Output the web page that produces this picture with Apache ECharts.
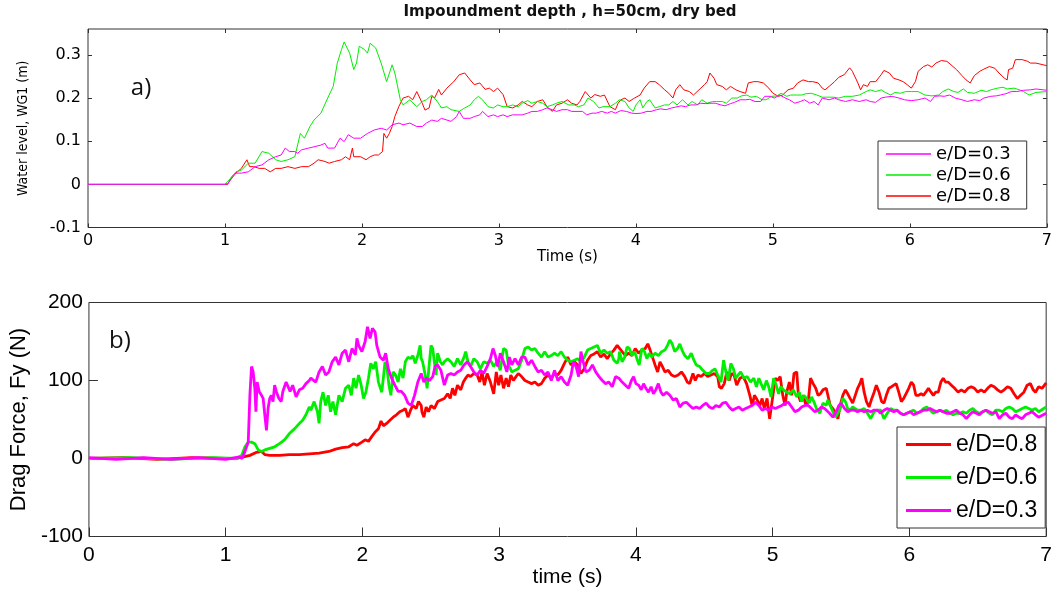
<!DOCTYPE html>
<html>
<head>
<meta charset="utf-8">
<title>Impoundment depth, h=50cm, dry bed</title>
<script src="https://cdn.jsdelivr.net/npm/echarts@6/dist/echarts.min.js"></script>
<style>
    html, body { margin: 0; padding: 0; background: #fff; }
    #chart { width: 1055px; height: 589px; }
</style>
</head>
<body>
<div id="chart"></div>
<script>
// legend names
var names = ['e/D=0.3', 'e/D=0.6', 'e/D=0.8'];

// axis ticks
var timeTicks = [0, 1, 2, 3, 4, 5, 6, 7];
var wgTicks = [-0.1, 0, 0.1, 0.2, 0.3];
var wgTop = 0.36;
var fyTicks = [-100, 0, 100, 200];

// a) water level WG1 (m), [time s, level m]
var wgMag = [[0,0],[1.00,0],[1.02,0.002],[1.08,0.026],[1.12,0.026],[1.17,0.029],[1.22,0.041],[1.27,0.045],[1.32,0.057],[1.37,0.064],[1.41,0.068],[1.44,0.084],[1.47,0.076],[1.51,0.076],[1.53,0.072],[1.56,0.080],[1.61,0.084],[1.65,0.087],[1.70,0.091],[1.73,0.095],[1.75,0.084],[1.80,0.084],[1.84,0.107],[1.87,0.099],[1.90,0.115],[1.94,0.107],[1.99,0.107],[2.04,0.118],[2.09,0.126],[2.14,0.130],[2.18,0.126],[2.22,0.138],[2.27,0.142],[2.30,0.138],[2.35,0.142],[2.40,0.134],
    [2.44,0.134],[2.47,0.142],[2.51,0.149],[2.55,0.146],[2.58,0.153],[2.62,0.149],[2.65,0.146],[2.69,0.157],[2.71,0.169],[2.74,0.153],[2.79,0.153],[2.82,0.157],[2.86,0.161],[2.88,0.169],[2.92,0.157],[2.96,0.161],[2.99,0.157],[3.03,0.161],[3.06,0.157],[3.10,0.161],[3.14,0.161],[3.17,0.161],[3.21,0.165],[3.24,0.169],[3.28,0.169],[3.32,0.173],[3.35,0.177],[3.39,0.173],[3.42,0.169],[3.46,0.173],[3.50,0.173],[3.53,0.169],[3.57,0.169],[3.61,0.169],[3.64,0.161],[3.68,0.165],[3.71,0.165],[3.75,0.169],[3.79,0.165],[3.82,0.169],[3.85,0.165],
    [3.86,0.161],[3.89,0.171],[3.93,0.169],[3.97,0.165],[4.00,0.164],[4.04,0.165],[4.08,0.169],[4.11,0.169],[4.15,0.173],[4.18,0.175],[4.22,0.173],[4.26,0.177],[4.29,0.179],[4.33,0.182],[4.36,0.180],[4.40,0.184],[4.44,0.184],[4.47,0.188],[4.51,0.187],[4.54,0.188],[4.58,0.188],[4.62,0.184],[4.65,0.182],[4.69,0.187],[4.72,0.190],[4.76,0.196],[4.80,0.196],[4.83,0.197],[4.87,0.192],[4.91,0.192],[4.94,0.204],[4.98,0.204],[5.01,0.200],[5.05,0.207],[5.09,0.200],[5.12,0.196],[5.16,0.188],[5.20,0.192],[5.23,0.196],[5.27,0.188],[5.30,0.192],
    [5.33,0.184],[5.36,0.200],[5.41,0.196],[5.45,0.200],[5.48,0.196],[5.53,0.192],[5.58,0.196],[5.63,0.192],[5.68,0.196],[5.71,0.192],[5.75,0.190],[5.79,0.200],[5.82,0.202],[5.87,0.204],[5.92,0.200],[5.96,0.196],[6.01,0.194],[6.06,0.196],[6.11,0.200],[6.15,0.192],[6.18,0.204],[6.22,0.205],[6.25,0.204],[6.29,0.207],[6.33,0.200],[6.38,0.196],[6.42,0.192],[6.47,0.196],[6.51,0.194],[6.54,0.200],[6.59,0.204],[6.63,0.205],[6.66,0.207],[6.70,0.210],[6.74,0.215],[6.78,0.215],[6.83,0.218],[6.88,0.219],[6.92,0.221],[7.00,0.218]];

var wgGreen = [[0,0],[1.00,0],[1.03,0.010],[1.08,0.029],[1.12,0.033],[1.17,0.049],[1.22,0.049],[1.27,0.076],[1.32,0.072],[1.37,0.057],[1.41,0.053],[1.46,0.057],[1.51,0.064],[1.55,0.118],[1.58,0.107],[1.62,0.134],[1.65,0.149],[1.70,0.165],[1.71,0.161],[1.75,0.200],[1.79,0.227],[1.82,0.281],[1.85,0.312],[1.87,0.330],[1.91,0.304],[1.94,0.266],[1.96,0.281],[1.98,0.320],[2.02,0.312],[2.04,0.304],[2.06,0.327],[2.10,0.316],[2.14,0.281],[2.18,0.238],[2.22,0.277],[2.24,0.258],[2.28,0.196],[2.30,0.184],[2.35,0.196],[2.40,0.180],
    [2.44,0.192],[2.47,0.196],[2.51,0.207],[2.55,0.192],[2.58,0.177],[2.62,0.180],[2.65,0.173],[2.71,0.169],[2.75,0.177],[2.79,0.184],[2.82,0.196],[2.85,0.204],[2.88,0.196],[2.92,0.180],[2.96,0.177],[2.99,0.184],[3.03,0.180],[3.06,0.180],[3.10,0.184],[3.14,0.180],[3.17,0.188],[3.21,0.194],[3.24,0.188],[3.28,0.192],[3.32,0.188],[3.35,0.180],[3.39,0.184],[3.42,0.188],[3.46,0.192],[3.51,0.184],[3.55,0.184],[3.58,0.180],[3.62,0.184],[3.65,0.200],[3.69,0.192],[3.73,0.177],[3.76,0.180],
    [3.81,0.180],[3.85,0.188],[3.88,0.196],[3.92,0.192],[3.95,0.177],[3.98,0.169],[4.00,0.184],[4.03,0.196],[4.05,0.177],[4.08,0.192],[4.10,0.196],[4.14,0.177],[4.17,0.180],[4.21,0.184],[4.24,0.184],[4.27,0.192],[4.30,0.184],[4.34,0.196],[4.38,0.184],[4.41,0.192],[4.45,0.184],[4.48,0.196],[4.52,0.188],[4.56,0.192],[4.59,0.192],[4.63,0.192],[4.66,0.188],[4.70,0.200],[4.74,0.200],[4.77,0.205],[4.81,0.207],[4.84,0.202],[4.88,0.204],[4.92,0.196],[4.95,0.196],[4.99,0.204],[5.03,0.205],[5.06,0.211],[5.10,0.204],[5.13,0.207],[5.17,0.207],[5.21,0.207],[5.24,0.210],[5.28,0.211],[5.32,0.207],[5.36,0.202],
    [5.39,0.202],[5.44,0.202],[5.48,0.200],[5.53,0.204],[5.58,0.204],[5.63,0.207],[5.68,0.215],[5.71,0.219],[5.75,0.215],[5.79,0.219],[5.82,0.213],[5.86,0.207],[5.89,0.213],[5.93,0.211],[5.97,0.215],[6.01,0.215],[6.06,0.215],[6.11,0.207],[6.16,0.205],[6.21,0.207],[6.24,0.215],[6.28,0.221],[6.32,0.215],[6.35,0.213],[6.39,0.221],[6.42,0.213],[6.47,0.211],[6.52,0.218],[6.56,0.215],[6.59,0.219],[6.64,0.223],[6.68,0.225],[6.71,0.221],[6.76,0.223],[6.80,0.219],[6.83,0.215],[6.87,0.207],[6.92,0.213],[7.00,0.215]];

var wgRed = [[0,0],[1.02,0],[1.05,0.018],[1.09,0.029],[1.12,0.037],[1.16,0.057],[1.18,0.041],[1.21,0.041],[1.25,0.037],[1.29,0.037],[1.33,0.029],[1.37,0.037],[1.41,0.037],[1.46,0.041],[1.51,0.037],[1.56,0.041],[1.61,0.041],[1.65,0.049],[1.68,0.057],[1.73,0.053],[1.76,0.049],[1.80,0.053],[1.85,0.057],[1.88,0.064],[1.91,0.057],[1.93,0.084],[1.94,0.064],[1.99,0.064],[2.03,0.057],[2.06,0.064],[2.09,0.068],[2.12,0.068],[2.15,0.076],[2.16,0.118],[2.18,0.107],[2.20,0.118],[2.22,0.134],[2.24,0.157],[2.27,0.181],[2.30,0.200],[2.34,0.204],[2.37,0.196],[2.40,0.215],
    [2.44,0.188],[2.46,0.172],[2.49,0.177],[2.51,0.204],[2.53,0.200],[2.56,0.220],[2.58,0.207],[2.62,0.223],[2.67,0.238],[2.71,0.254],[2.75,0.258],[2.79,0.242],[2.82,0.231],[2.86,0.235],[2.90,0.220],[2.93,0.223],[2.96,0.215],[2.99,0.223],[3.03,0.208],[3.06,0.180],[3.10,0.177],[3.14,0.184],[3.17,0.192],[3.21,0.184],[3.24,0.180],[3.28,0.192],[3.32,0.196],[3.35,0.180],[3.39,0.169],[3.42,0.184],[3.46,0.188],[3.50,0.196],[3.53,0.188],[3.57,0.184],[3.59,0.192],[3.63,0.215],[3.67,0.200],[3.70,0.208],[3.74,0.204],[3.77,0.207],[3.81,0.180],[3.85,0.173],
    [3.87,0.188],[3.89,0.196],[3.92,0.200],[3.95,0.192],[3.99,0.200],[4.03,0.207],[4.06,0.223],[4.10,0.238],[4.14,0.238],[4.17,0.231],[4.21,0.219],[4.24,0.211],[4.27,0.200],[4.29,0.219],[4.32,0.231],[4.35,0.219],[4.39,0.215],[4.42,0.207],[4.46,0.219],[4.50,0.231],[4.52,0.238],[4.54,0.258],[4.57,0.246],[4.59,0.231],[4.63,0.227],[4.66,0.219],[4.69,0.227],[4.73,0.219],[4.76,0.215],[4.80,0.211],[4.82,0.235],[4.86,0.238],[4.89,0.238],[4.93,0.235],[4.97,0.223],[5.00,0.211],[5.04,0.204],[5.07,0.207],[5.11,0.219],[5.15,0.223],[5.18,0.235],[5.22,0.242],[5.26,0.238],[5.29,0.238],[5.33,0.235],[5.36,0.223],
    [5.38,0.219],[5.41,0.227],[5.45,0.238],[5.48,0.248],[5.52,0.254],[5.56,0.270],[5.58,0.262],[5.62,0.235],[5.64,0.219],[5.66,0.231],[5.69,0.227],[5.71,0.238],[5.75,0.238],[5.79,0.254],[5.81,0.264],[5.85,0.258],[5.88,0.246],[5.92,0.242],[5.95,0.238],[5.98,0.231],[6.01,0.223],[6.04,0.238],[6.06,0.262],[6.10,0.273],[6.13,0.277],[6.16,0.272],[6.19,0.281],[6.23,0.287],[6.27,0.285],[6.30,0.277],[6.34,0.266],[6.38,0.252],[6.41,0.242],[6.44,0.235],[6.47,0.252],[6.51,0.262],[6.54,0.267],[6.58,0.273],[6.62,0.269],[6.65,0.258],[6.69,0.246],[6.71,0.242],[6.72,0.266],[6.75,0.269],[6.77,0.289],[6.78,0.293],[6.82,0.289],[6.86,0.285],[6.88,0.281],[6.92,0.281],[7.00,0.275]];

// b) drag force Fy (N), [time s, force N]
var fyMag = [[0,1],[0.2,-1],[0.4,1],[0.6,-1],[0.8,1],[1.0,-1],[1.1,2],[1.12,0],[1.14,8.5],[1.165,21],[1.177,81],[1.189,118],[1.201,111],[1.213,90],[1.221,60],[1.230,98],[1.245,86],[1.262,81],[1.274,77],[1.286,56],[1.298,36],[1.310,64],[1.322,77],[1.334,81],[1.346,73],[1.358,94],[1.370,86],[1.389,77],[1.406,73],[1.418,86],[1.442,98],[1.454,98],[1.471,86],[1.490,94],[1.515,79],[1.539,88],[1.563,90],[1.587,96],[1.611,100],[1.623,103],[1.635,103],[1.659,98],[1.683,111],[1.707,118],[1.731,107],[1.755,111],[1.779,124],[1.804,130],[1.828,120],[1.852,135],[1.876,139],[1.900,124],[1.924,141],[1.948,133],[1.960,154],[1.972,145],[1.996,137],[2.020,150],[2.037,169],[2.056,154],[2.073,167],[2.093,162],[2.105,145],[2.129,130],[2.153,126],[2.170,135],[2.189,115],[2.213,103],[2.237,94],[2.261,86],[2.285,86],[2.309,81],[2.333,71],[2.357,68],[2.381,81],[2.405,98],[2.430,109],
    [2.449,98],[2.466,103],[2.490,100],[2.514,105],[2.531,118],[2.550,120],[2.574,113],[2.599,94],[2.623,107],[2.647,109],[2.671,107],[2.695,111],[2.719,113],[2.743,120],[2.767,124],[2.791,118],[2.815,111],[2.839,107],[2.863,113],[2.887,109],[2.912,118],[2.936,128],[2.955,141],[2.972,132],[2.989,118],[3.008,135],[3.032,124],[3.056,111],[3.075,130],[3.092,120],[3.116,128],[3.140,120],[3.164,130],[3.188,130],[3.212,120],[3.237,126],[3.261,118],[3.285,111],[3.309,113],[3.333,107],[3.357,111],[3.381,100],[3.405,113],[3.429,100],[3.453,105],[3.477,98],[3.501,94],[3.526,107],[3.543,124],[3.562,118],[3.581,105],[3.598,137],[3.615,124],[3.634,111],[3.658,113],[3.682,120],[3.706,111],[3.730,105],[3.754,100],[3.778,96],[3.802,98],[3.827,92],[3.851,105],[3.875,103],
    [3.899,98],[3.923,94],[3.947,90],[3.967,100],[3.983,105],[4.000,96],[4.020,94],[4.039,88],[4.056,96],[4.073,90],[4.092,85],[4.111,92],[4.128,83],[4.145,88],[4.164,96],[4.183,85],[4.200,81],[4.224,85],[4.248,81],[4.272,75],[4.296,77],[4.321,66],[4.345,71],[4.369,72],[4.393,68],[4.417,64],[4.441,66],[4.465,64],[4.489,68],[4.513,71],[4.537,66],[4.561,64],[4.585,68],[4.610,66],[4.634,71],[4.658,72],[4.682,66],[4.706,62],[4.730,64],[4.754,66],[4.778,62],[4.802,64],[4.826,66],[4.850,68],[4.875,72],[4.899,68],[4.923,62],[4.947,64],[4.971,62],[4.995,66],[5.019,64],[5.043,66],[5.067,68],[5.091,71],[5.115,72],[5.139,66],[5.163,60],[5.188,62],[5.212,66],[5.236,68],[5.260,68],[5.284,64],[5.308,60],[5.332,62],[5.356,66],[5.380,64],[5.392,64],
    [5.416,58],[5.440,53],[5.465,60],[5.484,68],[5.501,71],[5.525,64],[5.549,60],[5.573,62],[5.597,62],[5.621,60],[5.645,62],[5.669,60],[5.693,62],[5.717,60],[5.742,62],[5.766,62],[5.790,58],[5.814,62],[5.838,64],[5.862,62],[5.886,60],[5.910,62],[5.934,58],[5.958,56],[5.982,58],[6.006,60],[6.031,56],[6.055,58],[6.079,60],[6.103,62],[6.127,62],[6.151,64],[6.175,62],[6.199,60],[6.223,62],[6.247,60],[6.271,58],[6.295,58],[6.319,60],[6.344,62],[6.368,58],[6.392,56],[6.416,51],[6.440,56],[6.464,60],[6.488,58],[6.512,56],[6.536,60],[6.560,62],[6.584,60],[6.608,58],[6.632,60],[6.657,51],[6.681,56],[6.705,58],[6.729,53],[6.753,51],[6.777,56],[6.801,53],[6.825,51],[6.849,56],[6.873,58],[6.897,60],[6.922,56],[6.945,53],[7.0,58]];

var fyGreen = [[0,0],[0.3,1],[0.6,-1],[0.9,1],[1.081,0],[1.117,4],[1.141,15],[1.165,21],[1.189,21],[1.213,19],[1.238,11],[1.262,9],[1.286,11],[1.322,13],[1.358,15],[1.394,19],[1.430,24],[1.466,32],[1.503,38],[1.539,45],[1.563,49],[1.587,56],[1.611,66],[1.623,62],[1.647,73],[1.671,60],[1.683,45],[1.695,73],[1.712,85],[1.731,68],[1.750,81],[1.767,60],[1.784,73],[1.804,56],[1.828,81],[1.852,73],[1.876,90],[1.900,94],[1.919,81],[1.936,103],[1.953,90],[1.972,107],[1.991,94],[2.008,77],[2.025,85],[2.044,103],[2.061,122],[2.080,115],[2.097,124],[2.117,98],[2.141,85],[2.153,103],[2.165,124],[2.177,120],[2.194,94],[2.208,81],[2.225,111],[2.242,107],[2.261,98],[2.278,115],[2.297,103],[2.314,124],[2.333,130],[2.352,128],[2.369,132],[2.386,122],[2.405,132],[2.422,145],[2.430,128],
    [2.44,124],[2.459,107],[2.473,90],[2.490,124],[2.502,145],[2.514,141],[2.526,124],[2.538,107],[2.550,135],[2.570,124],[2.586,120],[2.599,124],[2.623,128],[2.647,124],[2.671,118],[2.695,128],[2.719,120],[2.743,130],[2.755,137],[2.772,124],[2.791,118],[2.815,128],[2.839,124],[2.863,115],[2.887,124],[2.912,122],[2.936,126],[2.960,118],[2.984,124],[3.008,113],[3.032,141],[3.051,139],[3.068,120],[3.092,111],[3.116,113],[3.140,115],[3.164,126],[3.188,141],[3.212,143],[3.237,139],[3.261,141],[3.285,135],[3.309,130],[3.333,137],[3.357,130],[3.381,132],[3.405,135],[3.429,132],[3.453,137],[3.477,130],[3.501,126],[3.526,124],[3.550,126],[3.574,128],[3.598,124],[3.622,130],[3.646,139],[3.670,141],[3.694,143],[3.718,145],[3.742,135],[3.766,139],[3.790,135],[3.814,137],[3.839,126],[3.863,122],[3.875,128],
    [3.880,137],[3.899,124],[3.918,130],[3.935,143],[3.952,141],[3.971,132],[3.991,137],[4.007,128],[4.024,120],[4.044,141],[4.063,137],[4.080,128],[4.097,135],[4.116,130],[4.140,135],[4.164,132],[4.188,137],[4.212,139],[4.231,145],[4.248,152],[4.265,147],[4.284,137],[4.304,141],[4.321,147],[4.337,139],[4.357,132],[4.381,128],[4.405,135],[4.424,126],[4.441,120],[4.465,118],[4.489,113],[4.513,109],[4.537,109],[4.561,113],[4.578,115],[4.598,107],[4.622,98],[4.641,126],[4.658,111],[4.675,100],[4.694,122],[4.713,115],[4.730,103],[4.747,107],[4.766,111],[4.790,103],[4.814,105],[4.838,98],[4.862,103],[4.881,92],[4.899,103],[4.915,96],[4.935,88],[4.954,100],[4.971,92],[4.988,79],[5.007,103],[5.026,94],[5.043,83],[5.060,92],[5.079,88],[5.103,85],[5.127,83],[5.151,88],[5.176,79],[5.195,85],[5.212,73],[5.228,81],[5.248,77],[5.267,71],[5.284,79],[5.301,73],[5.320,64],[5.344,58],[5.368,71],[5.392,68],
    [5.404,75],[5.421,68],[5.440,60],[5.460,53],[5.477,58],[5.494,64],[5.513,77],[5.532,73],[5.549,64],[5.566,62],[5.585,66],[5.604,64],[5.621,62],[5.645,62],[5.669,64],[5.693,58],[5.717,51],[5.742,60],[5.766,62],[5.790,62],[5.814,51],[5.838,58],[5.862,64],[5.886,62],[5.910,62],[5.934,58],[5.958,56],[5.982,58],[6.006,60],[6.031,62],[6.055,58],[6.079,60],[6.103,64],[6.127,66],[6.151,62],[6.175,58],[6.199,60],[6.223,62],[6.247,60],[6.271,62],[6.295,58],[6.319,56],[6.344,58],[6.368,58],[6.392,60],[6.416,58],[6.440,62],[6.464,64],[6.488,60],[6.512,58],[6.536,60],[6.560,62],[6.584,58],[6.608,56],[6.632,62],[6.657,62],[6.681,60],[6.705,64],[6.729,66],[6.753,64],[6.777,60],[6.801,62],[6.825,64],[6.849,66],[6.873,64],[6.897,62],[6.922,64],[6.945,60],[7.0,66]];

var fyRed = [[0,0],[0.25,1],[0.5,-1],[0.75,1],[1.0,0],[1.081,0],[1.129,2],[1.177,4],[1.226,8],[1.262,9],[1.286,5],[1.322,4],[1.394,4],[1.466,5],[1.539,5],[1.611,6],[1.683,7],[1.755,9],[1.804,12],[1.852,14],[1.900,15],[1.936,19],[1.960,17],[1.996,21],[2.020,24],[2.044,22],[2.068,28],[2.093,34],[2.117,38],[2.136,48],[2.153,42],[2.177,45],[2.201,49],[2.225,53],[2.249,56],[2.273,60],[2.297,62],[2.314,64],[2.333,53],[2.352,62],[2.369,68],[2.393,64],[2.410,73],[2.430,68],
    [2.435,60],[2.449,53],[2.466,66],[2.483,60],[2.502,68],[2.526,64],[2.550,73],[2.574,75],[2.599,77],[2.623,83],[2.642,77],[2.659,90],[2.676,81],[2.695,94],[2.719,88],[2.738,98],[2.755,103],[2.772,107],[2.791,105],[2.815,109],[2.839,107],[2.858,98],[2.875,111],[2.892,94],[2.912,109],[2.936,98],[2.960,83],[2.979,111],[2.996,94],[3.013,107],[3.032,90],[3.051,103],[3.068,92],[3.085,107],[3.104,100],[3.123,105],[3.140,109],[3.164,105],[3.188,100],[3.212,98],[3.237,96],[3.261,98],[3.285,94],[3.309,96],[3.333,103],[3.357,107],[3.381,103],[3.405,109],[3.429,107],[3.453,113],[3.477,122],[3.501,130],[3.526,120],[3.550,124],[3.574,120],[3.598,109],[3.622,115],[3.646,126],[3.670,132],[3.694,134],[3.718,137],[3.742,130],[3.766,134],[3.790,128],[3.814,134],[3.839,139],[3.863,145],[3.875,143],
    [3.899,137],[3.923,132],[3.947,135],[3.971,132],[3.995,141],[4.020,135],[4.044,139],[4.068,141],[4.087,147],[4.104,139],[4.121,130],[4.140,120],[4.159,111],[4.176,124],[4.193,118],[4.212,111],[4.236,113],[4.260,107],[4.284,105],[4.309,107],[4.333,111],[4.357,105],[4.376,98],[4.393,96],[4.417,109],[4.434,100],[4.453,107],[4.477,105],[4.501,109],[4.525,105],[4.549,107],[4.573,109],[4.598,105],[4.610,92],[4.626,90],[4.646,96],[4.665,111],[4.682,100],[4.699,109],[4.718,107],[4.737,94],[4.761,103],[4.785,105],[4.809,96],[4.833,81],[4.850,68],[4.867,81],[4.887,75],[4.906,68],[4.923,77],[4.939,64],[4.959,77],[4.978,51],[4.988,49],[5.002,81],[5.019,103],[5.036,100],[5.055,105],[5.074,81],[5.091,68],[5.103,85],[5.122,98],[5.139,81],[5.156,109],[5.176,111],[5.188,81],[5.204,73],[5.224,81],[5.243,68],[5.260,73],[5.277,103],[5.296,96],[5.315,90],[5.332,81],[5.349,83],[5.368,88],[5.392,90],
    [5.421,68],[5.440,64],[5.460,58],[5.477,51],[5.494,68],[5.513,81],[5.532,88],[5.549,83],[5.566,77],[5.585,71],[5.604,81],[5.621,90],[5.638,96],[5.652,103],[5.669,85],[5.686,73],[5.705,66],[5.725,77],[5.742,85],[5.758,94],[5.778,85],[5.797,73],[5.814,71],[5.831,81],[5.850,90],[5.869,92],[5.886,94],[5.903,96],[5.922,85],[5.941,73],[5.958,77],[5.975,83],[5.995,90],[6.014,98],[6.031,94],[6.047,81],[6.067,81],[6.086,83],[6.103,81],[6.120,85],[6.139,90],[6.158,85],[6.175,81],[6.192,85],[6.211,85],[6.230,98],[6.247,103],[6.264,98],[6.283,98],[6.307,94],[6.331,90],[6.356,85],[6.380,88],[6.404,85],[6.428,90],[6.452,92],[6.476,90],[6.500,85],[6.524,88],[6.548,85],[6.572,90],[6.596,94],[6.620,92],[6.645,88],[6.669,85],[6.693,88],[6.717,92],[6.741,90],[6.765,83],[6.789,77],[6.813,81],[6.837,85],[6.861,94],[6.885,96],[6.905,88],[6.922,85],[6.945,92],[6.97,90],[7.0,97]];

var chart = echarts.init(document.getElementById('chart'));

var wgFont = 'DejaVu Sans';
var fyFont = 'Liberation Sans';
var colors = { 'e/D=0.3': '#ff00ff', 'e/D=0.6': '#00ee00', 'e/D=0.8': '#ff0000' };

// time axis shared by both panels
function timeAxis(grid, pos, opts) {
    var ax = {
        gridIndex: grid,
        type: 'value',
        position: pos,
        min: timeTicks[0],
        max: timeTicks[timeTicks.length - 1],
        interval: timeTicks[1] - timeTicks[0],
        axisLine: { show: false, onZero: false },
        axisTick: { inside: true, length: 4, lineStyle: { color: '#333' } },
        axisLabel: { show: false },
        splitLine: { show: false }
    };
    for (var k in opts) ax[k] = opts[k];
    return ax;
}

// legend entries with a plain coloured bar as icon
function legendItems(list) {
    return list.map(function (n) {
        return { name: n, icon: 'rect', itemStyle: { color: colors[n], borderWidth: 0 } };
    });
}

var option = {
    animation: false,
    backgroundColor: '#fff',
    grid: [
        { left: 88, top: 29, width: 969, height: 198.5, show: true, borderColor: '#333', borderWidth: 1, backgroundColor: 'transparent' },
        { left: 84, top: 302.5, width: 966, height: 234, show: true, borderColor: '#333', borderWidth: 1, backgroundColor: 'transparent' }
    ],
    graphic: [
        { type: 'text', x: 570, y: 12, style: { text: 'Impoundment depth , h=50cm, dry bed', font: 'bold 15px "DejaVu Sans"', fill: '#111', align: 'center', verticalAlign: 'middle' } },
        { type: 'text', x: 141, y: 88, style: { text: 'a)', font: '24px "Open Sans"', fill: '#111', align: 'center', verticalAlign: 'middle' } },
        { type: 'text', x: 120, y: 341, style: { text: 'b)', font: '24px "Open Sans"', fill: '#111', align: 'center', verticalAlign: 'middle' } }
    ],
    legend: [
        {
            data: legendItems([names[0], names[1], names[2]]),
            orient: 'vertical', left: 878, top: 141,
            padding: [4, 16, 4, 8], itemGap: 3, itemWidth: 45, itemHeight: 1.5,
            itemStyle: { borderWidth: 0 },
            backgroundColor: '#fff', borderColor: '#333', borderWidth: 1, borderRadius: 0,
            selectedMode: false,
            textStyle: { fontFamily: wgFont, fontSize: 18, color: '#000' }
        },
        {
            data: legendItems([names[2], names[1], names[0]]),
            orient: 'vertical', left: 897, top: 427,
            padding: [6, 8, 6, 9], itemGap: 10, itemWidth: 45, itemHeight: 2.8,
            itemStyle: { borderWidth: 0 },
            backgroundColor: '#fff', borderColor: '#333', borderWidth: 1, borderRadius: 0,
            selectedMode: false,
            textStyle: { fontFamily: fyFont, fontSize: 23, color: '#000' }
        }
    ],
    xAxis: [
        timeAxis(0, 'bottom', {
            name: 'Time (s)', nameLocation: 'middle', nameGap: 20,
            nameTextStyle: { fontFamily: wgFont, fontSize: 15, color: '#000' },
            axisLabel: { show: true, margin: 5, fontFamily: wgFont, fontSize: 16, color: '#000' }
        }),
        timeAxis(0, 'top', {}),
        timeAxis(1, 'bottom', {
            name: 'time (s)', nameLocation: 'middle', nameGap: 30,
            nameTextStyle: { fontFamily: fyFont, fontSize: 21, color: '#000' },
            axisTick: { inside: true, length: 9, lineStyle: { color: '#333' } },
            axisLabel: { show: true, margin: 8, fontFamily: fyFont, fontSize: 21, color: '#000' }
        })
    ],
    yAxis: [
        {
            gridIndex: 0, type: 'value', position: 'left',
            min: wgTicks[0], max: wgTop, interval: 0.1,
            name: 'Water level, WG1 (m)', nameLocation: 'middle', nameGap: 58,
            nameTextStyle: { fontFamily: 'Liberation Sans Narrow, DejaVu Sans Condensed', fontSize: 14, color: '#000' },
            axisLine: { show: false, onZero: false },
            axisTick: { inside: true, length: 4, lineStyle: { color: '#333' } },
            axisLabel: { margin: 7, fontFamily: wgFont, fontSize: 16, color: '#000', showMaxLabel: false },
            splitLine: { show: false }
        },
        {
            gridIndex: 0, type: 'value', position: 'right',
            min: wgTicks[0], max: wgTop, interval: 0.1,
            axisLine: { show: false, onZero: false },
            axisTick: { inside: true, length: 4, lineStyle: { color: '#333' } },
            axisLabel: { show: false },
            splitLine: { show: false }
        },
        {
            gridIndex: 1, type: 'value', position: 'left',
            min: fyTicks[0], max: fyTicks[fyTicks.length - 1], interval: 100,
            name: 'Drag Force, Fy (N)', nameLocation: 'middle', nameGap: 56,
            nameTextStyle: { fontFamily: fyFont, fontSize: 22, color: '#000' },
            axisLine: { show: false, onZero: false },
            axisTick: { inside: true, length: 9, lineStyle: { color: '#333' } },
            axisLabel: { margin: 6, fontFamily: fyFont, fontSize: 21, color: '#000' },
            splitLine: { show: false }
        }
    ],
    series: [
        // a) thin lines
        { name: names[2], type: 'line', xAxisIndex: 0, yAxisIndex: 0, data: wgRed, symbol: 'none', lineStyle: { width: 1, color: colors[names[2]] }, itemStyle: { color: colors[names[2]] } },
        { name: names[1], type: 'line', xAxisIndex: 0, yAxisIndex: 0, data: wgGreen, symbol: 'none', lineStyle: { width: 1, color: colors[names[1]] }, itemStyle: { color: colors[names[1]] } },
        { name: names[0], type: 'line', xAxisIndex: 0, yAxisIndex: 0, data: wgMag, symbol: 'none', lineStyle: { width: 1, color: colors[names[0]] }, itemStyle: { color: colors[names[0]] } },
        // b) thick lines
        { name: names[2], type: 'line', xAxisIndex: 2, yAxisIndex: 2, data: fyRed, symbol: 'none', lineStyle: { width: 2.8, color: colors[names[2]] }, itemStyle: { color: colors[names[2]] } },
        { name: names[1], type: 'line', xAxisIndex: 2, yAxisIndex: 2, data: fyGreen, symbol: 'none', lineStyle: { width: 2.8, color: colors[names[1]] }, itemStyle: { color: colors[names[1]] } },
        { name: names[0], type: 'line', xAxisIndex: 2, yAxisIndex: 2, data: fyMag, symbol: 'none', lineStyle: { width: 2.8, color: colors[names[0]] }, itemStyle: { color: colors[names[0]] } }
    ]
};
chart.setOption(option);
</script>
</body>
</html>
